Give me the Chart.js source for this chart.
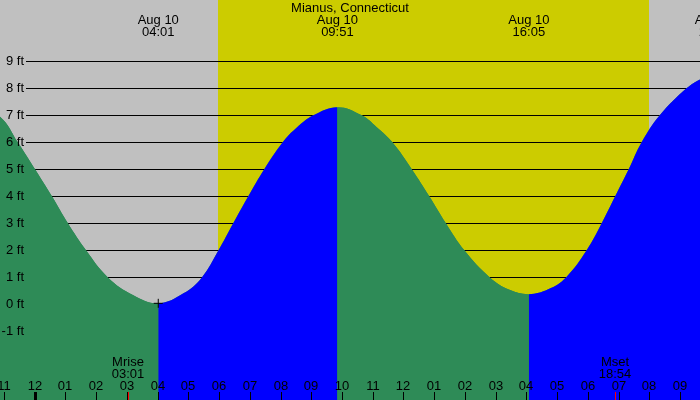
<!DOCTYPE html>
<html>
<head>
<meta charset="utf-8">
<script src="https://cdn.jsdelivr.net/npm/chart.js@4.4.0/dist/chart.umd.min.js"></script>
<style>
    html, body { margin: 0; padding: 0; background: #c0c0c0; }
    #wrap { width: 700px; height: 400px; }
</style>
</head>
<body>
<div id="wrap"><canvas id="grafico" width="700" height="400"></canvas></div>
<script>
const titulo = 'Mianus, Connecticut';
const fechaEtiqueta = 'Aug 10';

// curva de marea (horas desde medianoche del 10 ago, pies)
const horasMarea = [-1.9, -1.13, -0.55, 0.01, 0.56, 1.08, 1.67, 2.38, 3.21, 4.02,
    4.84, 5.44, 5.98, 6.46, 6.95, 7.47, 8.07, 8.53, 9.07, 9.85,
    10.64, 11.13, 11.64, 12.27, 12.84, 13.38, 13.98, 14.81, 15.47, 16.08,
    16.71, 17.29, 17.96, 18.45, 18.89, 19.33, 19.75, 20.34, 21.21, 21.65,
    22.15, 23.0];
const alturasMarea = [7.3, 6.95, 6.0, 5.0, 4.0, 3.0, 2.0, 1.0, 0.34, 0.04,
    0.41, 1.0, 2.0, 3.0, 4.0, 5.0, 6.0, 6.55, 7.0, 7.3,
    7.0, 6.56, 6.0, 5.0, 4.0, 3.0, 2.0, 1.0, 0.53, 0.38,
    0.56, 1.0, 2.0, 3.0, 4.0, 5.0, 6.0, 7.0, 8.0, 8.33,
    8.6, 8.4];

// pleamares / bajamares rotuladas arriba
const extremosHoras = [4.02, 9.85, 16.08, 22.15];
const extremosTexto = ['04:01', '09:51', '16:05', '22:09'];

const horaAmanecer = 5.97;
const horaAtardecer = 19.99;

const nivelesPies = [-1, 0, 1, 2, 3, 4, 5, 6, 7, 8, 9];
const etiquetasPies = ['-1 ft', '0 ft', '1 ft', '2 ft', '3 ft', '4 ft', '5 ft', '6 ft', '7 ft', '8 ft', '9 ft'];

const horasEje = [-1, 0, 1, 2, 3, 4, 5, 6, 7, 8, 9, 10, 11, 12, 13, 14, 15, 16, 17, 18, 19, 20, 21];
const etiquetasHoras = ['11', '12', '01', '02', '03', '04', '05', '06', '07', '08', '09', '10',
    '11', '12', '01', '02', '03', '04', '05', '06', '07', '08', '09'];

const lunaHoras = [3.02, 18.9];
const lunaNombre = ['Mrise', 'Mset'];
const lunaTexto = ['03:01', '18:54'];

const marcaActual = [{ x: 4.02, y: 0.04 }];

const VERDE = '#2e8b57';
const AZUL = '#0000ff';
const FUENTE = '13px "Liberation Sans", Arial, sans-serif';

const fondoPlugin = {
    id: 'fondo',
    beforeDatasetsDraw(chart) {
        const { ctx, chartArea: a, scales: { x, y } } = chart;
        ctx.save();
        ctx.fillStyle = '#c0c0c0';
        ctx.fillRect(a.left, a.top, a.right - a.left, a.bottom - a.top);
        const x0 = Math.round(x.getPixelForValue(horaAmanecer));
        const x1 = Math.round(x.getPixelForValue(horaAtardecer));
        ctx.fillStyle = '#cccc00';
        ctx.fillRect(x0, a.top, x1 - x0, a.bottom - a.top);

        ctx.strokeStyle = '#000';
        ctx.lineWidth = 1;
        nivelesPies.forEach(v => {
            const py = Math.round(y.getPixelForValue(v)) + 0.5;
            ctx.beginPath();
            ctx.moveTo(26, py);
            ctx.lineTo(a.right, py);
            ctx.stroke();
        });
        ctx.restore();
    },
    afterDatasetsDraw(chart) {
        const { ctx, chartArea: a, scales: { x, y } } = chart;
        ctx.save();
        ctx.font = FUENTE;
        ctx.fillStyle = '#000';
        ctx.textBaseline = 'middle';

        ctx.textAlign = 'center';
        ctx.fillText(titulo, (a.left + a.right) / 2, 8);

        extremosHoras.forEach((h, i) => {
            const px = x.getPixelForValue(h);
            ctx.fillText(fechaEtiqueta, px, 20);
            ctx.fillText(extremosTexto[i], px, 32);
        });

        ctx.textAlign = 'right';
        nivelesPies.forEach((v, i) => {
            ctx.fillText(etiquetasPies[i], 24, y.getPixelForValue(v));
        });

        ctx.textAlign = 'center';
        horasEje.forEach((h, i) => {
            const px = Math.round(x.getPixelForValue(h));
            ctx.fillText(etiquetasHoras[i], px, 386);
            ctx.fillStyle = '#000';
            ctx.fillRect(h === 0 ? px - 1 : px, 392, h === 0 ? 3 : 1, 8);
        });

        lunaHoras.forEach((h, i) => {
            const px = Math.round(x.getPixelForValue(h));
            ctx.fillStyle = '#000';
            ctx.fillText(lunaNombre[i], px, 362);
            ctx.fillText(lunaTexto[i], px, 374);
            ctx.fillStyle = '#ff0000';
            ctx.fillRect(px, 392, 1, 8);
        });
        ctx.restore();
    }
};

window.onload = function () {
    const ctx = document.getElementById('grafico').getContext('2d');

    const puntos = horasMarea.map((h, i) => ({ x: h, y: alturasMarea[i] }));

    const estiloMarea = {
        fill: 'start',
        borderColor: 'rgba(0,0,0,0)',
        borderWidth: 0,
        pointRadius: 0,
        tension: 0.4
    };

    new Chart(ctx, {
        type: 'line',
        data: {
            datasets: [
                {
                    label: 'Marca',
                    data: marcaActual,
                    showLine: false,
                    pointStyle: 'cross',
                    pointRadius: 4.5,
                    borderColor: '#000',
                    borderWidth: 1,
                    order: 0
                },
                {
                    // vaciante en verde, creciente en azul
                    label: 'Marea',
                    data: puntos,
                    ...estiloMarea,
                    backgroundColor: VERDE,
                    segment: {
                        backgroundColor: c => c.p1.parsed.y > c.p0.parsed.y ? AZUL : VERDE
                    },
                    order: 1
                },
                {
                    // base verde debajo para tapar las juntas entre segmentos
                    label: 'Base',
                    data: puntos,
                    ...estiloMarea,
                    backgroundColor: VERDE,
                    order: 2
                }
            ]
        },
        options: {
            responsive: false,
            animation: false,
            devicePixelRatio: 1,
            layout: { padding: 0, autoPadding: false },
            plugins: {
                legend: { display: false },
                tooltip: { enabled: false }
            },
            scales: {
                x: { type: 'linear', min: -1.13, max: 21.65, display: false },
                y: { type: 'linear', min: -3.54, max: 11.27, display: false }
            }
        },
        plugins: [fondoPlugin]
    });
};
</script>
</body>
</html>
